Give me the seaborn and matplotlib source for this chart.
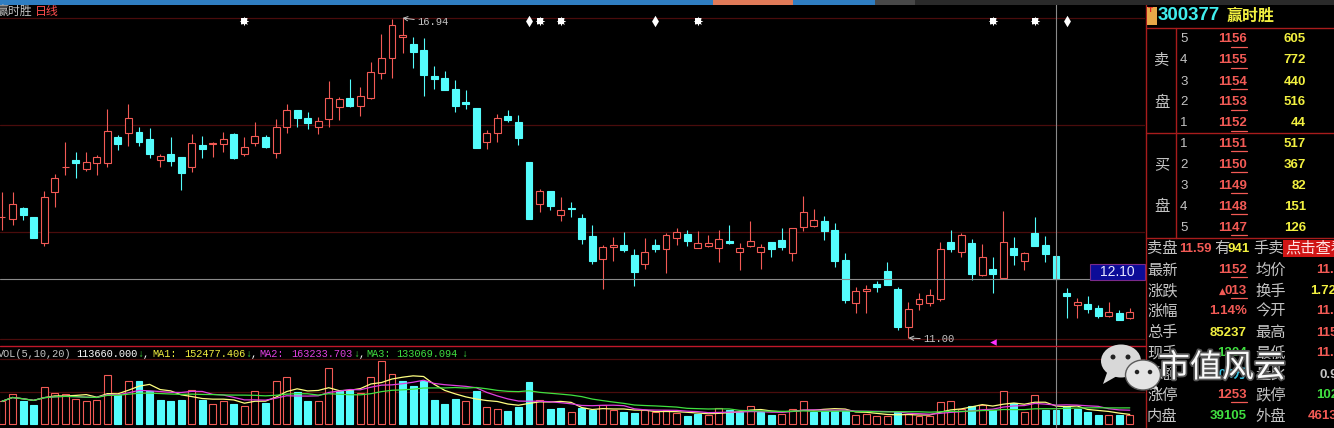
import numpy as np
import pandas as pd
import matplotlib
matplotlib.use("Agg")
import matplotlib.pyplot as plt
import matplotlib.transforms as mtransforms
import matplotlib.patheffects as pe
from matplotlib.lines import Line2D
from matplotlib.patches import Rectangle, Ellipse, Polygon
import seaborn as sns

# ---------------------------------------------------------------- data
opens = [13.25, 13.21, 13.41, 13.25, 12.76, 13.71, 14.17, 14.30, 14.14, 14.25,
         14.25, 14.73, 14.81, 14.82, 14.69, 14.30, 14.42, 14.36, 14.17, 14.58,
         14.61, 14.60, 14.79, 14.42, 14.62, 14.73, 14.43, 14.92, 15.23, 15.08,
         14.92, 15.06, 15.29, 15.45, 15.31, 15.45, 15.92, 16.20, 16.59, 16.46,
         16.35, 15.86, 15.83, 15.62, 15.38, 15.27, 14.64, 14.81, 15.12, 15.01,
         14.27, 13.49, 13.73, 13.28, 13.41, 13.23, 12.89, 12.47, 12.69, 12.73,
         12.54, 12.37, 12.73, 12.65, 12.86, 12.93, 12.67, 12.71, 12.67, 12.80,
         12.60, 12.71, 12.60, 12.78, 12.82, 12.58, 13.06, 13.08, 13.17, 13.00,
         12.45, 11.65, 11.87, 12.00, 12.24, 11.91, 11.20, 11.63, 11.65, 11.72,
         12.78, 12.60, 12.76, 12.17, 12.28, 12.11, 12.67, 12.43, 12.95, 12.73,
         12.52, 11.84, 11.61, 11.63, 11.56, 11.41, 11.46, 11.37]
highs = [13.71, 13.71, 13.43, 13.25, 13.73, 14.04, 14.64, 14.45, 14.45, 14.40,
         15.25, 14.77, 15.34, 14.92, 14.90, 14.42, 14.73, 14.36, 14.79, 14.75,
         14.64, 14.82, 14.81, 14.73, 15.01, 14.77, 15.06, 15.34, 15.23, 15.20,
         15.10, 15.77, 15.47, 15.81, 15.66, 16.12, 16.64, 16.92, 16.94, 16.59,
         16.57, 16.05, 15.96, 15.79, 15.60, 15.27, 14.86, 15.16, 15.23, 15.14,
         14.27, 13.77, 13.73, 13.62, 13.52, 13.30, 13.10, 12.73, 12.87, 12.97,
         12.65, 12.86, 12.84, 12.95, 13.04, 13.00, 12.99, 12.91, 13.00, 13.10,
         12.76, 13.17, 12.74, 12.78, 13.04, 13.04, 13.64, 13.39, 13.26, 13.13,
         12.58, 11.95, 11.98, 12.06, 12.41, 11.95, 11.67, 11.84, 11.91, 12.78,
         13.00, 12.95, 12.84, 12.74, 12.50, 13.36, 12.87, 12.60, 13.25, 12.89,
         12.52, 11.93, 11.74, 11.78, 11.61, 11.67, 11.52, 11.56]
lows = [13.00, 13.10, 13.19, 12.86, 12.71, 13.43, 14.03, 13.97, 14.10, 14.03,
        14.17, 14.49, 14.56, 14.56, 14.34, 14.17, 14.19, 13.75, 14.08, 14.34,
        14.36, 14.45, 14.32, 14.38, 14.56, 14.53, 14.34, 14.81, 14.92, 14.88,
        14.79, 14.92, 15.05, 15.29, 15.12, 15.44, 15.81, 15.83, 16.29, 16.01,
        15.49, 15.62, 15.60, 15.20, 15.25, 14.53, 14.51, 14.64, 15.01, 14.58,
        13.21, 13.34, 13.38, 13.17, 13.25, 12.74, 12.37, 11.91, 12.43, 12.60,
        11.97, 12.28, 12.60, 12.21, 12.73, 12.71, 12.67, 12.69, 12.41, 12.74,
        12.26, 12.69, 12.28, 12.50, 12.63, 12.43, 12.99, 13.06, 12.82, 12.32,
        11.65, 11.46, 11.46, 11.85, 11.98, 11.15, 11.00, 11.52, 11.59, 11.69,
        12.60, 12.50, 12.08, 12.15, 11.84, 12.11, 12.35, 12.26, 12.71, 12.41,
        12.10, 11.37, 11.37, 11.46, 11.37, 11.39, 11.33, 11.35]
closes = [13.25, 13.49, 13.28, 12.86, 13.62, 13.97, 14.18, 14.25, 14.27, 14.36,
          14.84, 14.60, 15.08, 14.64, 14.42, 14.38, 14.29, 14.06, 14.62, 14.51,
          14.62, 14.69, 14.34, 14.55, 14.75, 14.55, 14.92, 15.23, 15.08, 14.99,
          15.03, 15.45, 15.44, 15.31, 15.49, 15.94, 16.20, 16.81, 16.62, 16.31,
          15.88, 15.81, 15.60, 15.31, 15.34, 14.53, 14.81, 15.08, 15.05, 14.71,
          13.21, 13.73, 13.45, 13.38, 13.39, 12.84, 12.43, 12.69, 12.73, 12.63,
          12.23, 12.60, 12.65, 12.91, 12.97, 12.80, 12.76, 12.76, 12.84, 12.76,
          12.67, 12.80, 12.69, 12.65, 12.69, 13.04, 13.34, 13.19, 12.99, 12.43,
          11.71, 11.87, 11.91, 11.95, 11.98, 11.20, 11.54, 11.72, 11.80, 12.65,
          12.65, 12.91, 12.19, 12.50, 12.19, 12.78, 12.54, 12.58, 12.71, 12.56,
          12.10, 11.78, 11.67, 11.54, 11.41, 11.48, 11.33, 11.48]
volumes = [188000, 252000, 188000, 155000, 310000, 260000, 252000, 210000, 188000, 202000,
           410000, 243000, 360000, 354000, 277000, 196000, 188000, 196000, 282000, 196000,
           169000, 188000, 163000, 147000, 277000, 174000, 354000, 393000, 263000, 188000,
           194000, 468000, 271000, 279000, 257000, 387000, 526000, 418000, 354000, 313000,
           360000, 202000, 166000, 210000, 188000, 271000, 138000, 127000, 105000, 138000,
           346000, 202000, 122000, 130000, 97000, 133000, 119000, 160000, 114000, 97000,
           89000, 114000, 100000, 119000, 89000, 64000, 83000, 72000, 133000, 119000,
           100000, 152000, 97000, 72000, 83000, 127000, 193000, 97000, 110000, 110000,
           110000, 72000, 85000, 64000, 64000, 97000, 83000, 64000, 64000, 180000,
           193000, 125000, 147000, 160000, 119000, 271000, 174000, 97000, 243000, 119000,
           113660, 147000, 125000, 100000, 77000, 72000, 77000, 72000]

stock_code = "300377"
stock_name = "赢时胜"
period_label = "日线"
high_label = "16.94"
low_label = "11.00"
high_index = 38
low_index = 86
cursor_index = 100
cursor_price = 12.10
flag_index = 94
star_events = [23, 51, 53, 66, 94, 98]
bar_events = [50, 62, 101]
price_grid = [16.94, 14.95, 12.97, 10.98]
vol_grid = [540000, 266000]
ma_windows = [5, 10, 20]
vol_legend_name = "VOL(5,10,20)"
vol_legend_values = ["113660.000", "152477.406", "163233.703", "133069.094"]

ask_levels = ["5", "4", "3", "2", "1"]
ask_prices = ["1156", "1155", "1154", "1153", "1152"]
ask_vols = ["605", "772", "440", "516", "44"]
bid_levels = ["1", "2", "3", "4", "5"]
bid_prices = ["1151", "1150", "1149", "1148", "1147"]
bid_vols = ["517", "367", "82", "151", "126"]
ask_block = ["卖盘", "11.59", "有", "941", "手卖", "点击查看"]
quote_left_labels = ["最新", "涨跌", "涨幅", "总手", "现手", "总额", "涨停", "内盘"]
quote_left_values = ["1152", "013", "1.14%", "85237", "1304", "9904万", "1253", "39105"]
quote_right_labels = ["均价", "换手", "今开", "最高", "最低", "量比", "跌停", "外盘"]
quote_right_values = ["11.45", "1.72%", "11.40", "1159", "11.37", "0.96", "1025", "46132"]
watermark = "市值风云"

# ---------------------------------------------------------------- style
RED = "#f25a55"
CYAN = "#54fcfc"
GRAY = "#c4c4c4"
YELLOW = "#f2f040"
GREEN = "#40e040"
MAGENTA = "#e040e0"
GRID = "#4a0c0c"
PANEL = "#a81c1c"
CROSS = "#8a8a8a"

NUM = ["Liberation Sans", "Noto Sans CJK SC", "DejaVu Sans"]
CJK = ["Noto Sans CJK SC", "DejaVu Sans"]
MONO = ["Liberation Mono", "DejaVu Sans Mono"]

sns.set_theme(style="dark", rc={"figure.facecolor": "black", "axes.facecolor": "black",
                                "savefig.facecolor": "black"})
plt.rcParams["font.family"] = ["Noto Sans CJK SC", "DejaVu Sans"]

W, H, DPI = 1334, 428, 100
fig = plt.figure(figsize=(W / DPI, H / DPI), dpi=DPI)
fig.patch.set_facecolor("black")


def fx(x):
    return x / W


def fy(y):
    return 1 - y / H


def hline(y, x0, x1, color, lw=1.0, z=6):
    fig.add_artist(Line2D([fx(x0), fx(x1)], [fy(y), fy(y)], transform=fig.transFigure,
                          color=color, lw=lw, zorder=z))


def vline(x, y0, y1, color, lw=1.0, z=6):
    fig.add_artist(Line2D([fx(x), fx(x)], [fy(y0), fy(y1)], transform=fig.transFigure,
                          color=color, lw=lw, zorder=z))


def rect(x0, y0, x1, y1, fc, ec="none", lw=0.0, z=6):
    fig.add_artist(Rectangle((fx(x0), fy(y1)), fx(x1) - fx(x0), fy(y0) - fy(y1),
                             transform=fig.transFigure, facecolor=fc, edgecolor=ec,
                             lw=lw, zorder=z))


def txt(x, y, s, color, size, ha="left", va="center", family=None, weight="normal", z=8, **kw):
    fig.text(fx(x), fy(y), s, color=color, fontsize=size, ha=ha, va=va,
             family=family or CJK, weight=weight, zorder=z, **kw)


# ---------------------------------------------------------------- geometry
STEP = 10.54
X0 = 2.0
CHART_R = 1145
xlim = (-X0 / STEP, (CHART_R - X0) / STEP)
PX_PER_PRICE = 53.87
P_TOP = 16.94 + 18 / PX_PER_PRICE
VOL_PER_PX = 8300
VOL_BASE = 424

ax = fig.add_axes([0, fy(346), CHART_R / W, 346 / H])
vax = fig.add_axes([0, 0, CHART_R / W, (H - 346) / H])

# ---------------------------------------------------------------- candles
o = np.array(opens)
c = np.array(closes)
h = np.array(highs)
l = np.array(lows)
n = len(c)
idx = np.arange(n)
up = c >= o
BW = 0.66

for g in price_grid:
    ax.axhline(g, color=GRID, lw=0.9, zorder=1)

ax.vlines(idx[up], l[up], h[up], color=RED, lw=0.8, zorder=2)
ax.vlines(idx[~up], l[~up], h[~up], color=CYAN, lw=0.8, zorder=2)
body_lo = np.minimum(o, c)
body_h = np.maximum(np.abs(c - o), 0.004)
ax.bar(idx[up], body_h[up], bottom=body_lo[up], width=BW, facecolor="black",
       edgecolor=RED, linewidth=0.8, zorder=3)
ax.bar(idx[~up], body_h[~up], bottom=body_lo[~up], width=BW, facecolor=CYAN,
       edgecolor=CYAN, linewidth=0.8, zorder=3)

# crosshair
ax.axvline(cursor_index, color=CROSS, lw=0.8, zorder=4)
ax.axhline(cursor_price, xmin=0, xmax=1090 / CHART_R, color=CROSS, lw=0.8, zorder=4)

# event markers
btrans = mtransforms.blended_transform_factory(ax.transData, ax.transAxes)
ymk = 1 - 20.7 / 346
ax.scatter(star_events, [ymk] * len(star_events), transform=btrans, marker=(8, 1, 0),
           s=48, color="white", linewidths=0, zorder=6)
ax.scatter(star_events, [ymk] * len(star_events), transform=btrans, marker="s",
           s=16, color="white", linewidths=0, zorder=6)
ax.scatter(bar_events, [ymk] * len(bar_events), transform=btrans, marker="d",
           s=34, color="white", linewidths=0, zorder=6)

# high / low annotations
ax.annotate(high_label, xy=(high_index, highs[high_index]), xytext=(15, -4),
            textcoords="offset pixels", color=GRAY, fontsize=7.6, family=MONO,
            ha="left", va="center",
            arrowprops=dict(arrowstyle="->", color=GRAY, lw=0.7, shrinkA=0, shrinkB=0))
ax.annotate(low_label, xy=(low_index, lows[low_index]), xytext=(15, -1.5),
            textcoords="offset pixels", color=GRAY, fontsize=7.6, family=MONO,
            ha="left", va="center",
            arrowprops=dict(arrowstyle="->", color=GRAY, lw=0.7, shrinkA=0, shrinkB=0))
ax.scatter([flag_index], [P_TOP - 341.7 / PX_PER_PRICE], marker="<", s=22,
           color="#ff30ff", linewidths=0, zorder=6)

ax.set_xlim(*xlim)
ax.set_ylim(P_TOP - 346 / PX_PER_PRICE, P_TOP)
ax.axis("off")

# ---------------------------------------------------------------- volume
v = np.array(volumes, dtype=float)
prev = np.r_[c[0], c[:-1]]
vup = c >= prev
for g in vol_grid:
    vax.axhline(g, color=GRID, lw=0.9, zorder=1)
vax.bar(idx[vup], v[vup], width=BW, facecolor="black", edgecolor=RED, linewidth=0.8, zorder=2)
vax.bar(idx[~vup], v[~vup], width=BW, facecolor=CYAN, edgecolor=CYAN, linewidth=0.8, zorder=2)

vs = pd.Series(v)
ma_df = pd.DataFrame({"i": idx})
ma_colors = ["#ffff80", MAGENTA, GREEN]
for wdw, col in zip(ma_windows, ma_colors):
    ma_df[f"ma{wdw}"] = vs.rolling(wdw, min_periods=1).mean()
    sns.lineplot(data=ma_df, x="i", y=f"ma{wdw}", ax=vax, color=col, lw=0.9,
                 legend=False, zorder=3)
vax.axvline(cursor_index, color=CROSS, lw=0.8, zorder=4)
vax.set_xlim(*xlim)
vax.set_ylim(-(H - VOL_BASE) * VOL_PER_PX, (VOL_BASE - 346) * VOL_PER_PX)
vax.axis("off")

# volume legend
LY = 354
txt(-2, LY, vol_legend_name, GRAY, 7.4, family=MONO)
pieces = [(76, vol_legend_values[0], "white"), (137, "↓", GREEN), (143, ",", "white"),
          (152, "MA1:", YELLOW), (184, vol_legend_values[1], YELLOW), (245, "↓", GREEN),
          (251, ",", "white"), (259, "MA2:", MAGENTA), (291, vol_legend_values[2], MAGENTA),
          (353, "↓", GREEN), (359, ",", "white"), (366, "MA3:", GREEN),
          (396, vol_legend_values[3], GREEN), (461, "↓", GREEN)]
for x, s, col in pieces:
    txt(x, LY, s, col, 7.4, family=MONO)

# ---------------------------------------------------------------- frame / header
rect(0, 0, 875, 4.5, "#2f7ec2", z=7)
rect(713, 0, 793, 4.5, "#e07a58", z=7)
rect(875, 0, 915, 4.5, "#484848", z=7)
rect(915, 0, W, 4.5, "#2a2a2a", z=7)
hline(346, 0, 1146, "#c0182a", lw=1.0)

txt(-3, 11, stock_name, GRAY, 8.6)
txt(35, 11, period_label, "#ff4d4d", 8.6)

# price label box at cursor
rect(1090, 264, 1145, 280, "#0c0c98", ec="#7a2a8a", lw=0.8, z=6)
txt(1117.5, 272.5, f"{cursor_price:.2f}", "#e8e8ff", 10, ha="center", family=NUM)

# ---------------------------------------------------------------- right panel
vline(1146, 4, H, PANEL)
hline(27.7, 1146, W, PANEL)
vline(1176, 28, 238.5, PANEL)
hline(133, 1146, W, PANEL)
hline(238.5, 1146, W, PANEL)

rect(1147, 7, 1157, 25, "#e8a848", z=7)
txt(1148, 11, "T", "#e02020", 6, family=NUM, weight="bold")
txt(1158, 16, stock_code, "#40eeee", 13.5, family=NUM, weight="bold")
txt(1227, 16, stock_name, YELLOW, 11.5, weight="bold")

sell_ys = [39.3, 60.3, 81.7, 102.3, 123.3]
buy_ys = [144.0, 164.7, 185.7, 206.7, 227.7]
for ys, lv, pr, vo in [(sell_ys, ask_levels, ask_prices, ask_vols),
                       (buy_ys, bid_levels, bid_prices, bid_vols)]:
    for y, a, b, d in zip(ys, lv, pr, vo):
        txt(1180, y, a, GRAY, 9.5, family=NUM)
        txt(1247, y, b, RED, 9.5, ha="right", family=NUM, weight="bold")
        hline(y + 7.4, 1231, 1247, RED, lw=0.9)
        txt(1306, y, d, YELLOW, 9.5, ha="right", family=NUM, weight="bold")
for ch, y in [("卖", 60), ("盘", 103), ("买", 165), ("盘", 207)]:
    txt(1162, y, ch, GRAY, 11, ha="center")

RY = 248.5
rect(1283, 240, W, 257, "#d01515", z=6)
txt(1147, RY, ask_block[0], GRAY, 11)
txt(1179, RY, ask_block[1], RED, 9.5, family=NUM, weight="bold")
txt(1214, RY, ask_block[2], GRAY, 11)
txt(1228, RY, ask_block[3], YELLOW, 9.5, family=NUM, weight="bold")
txt(1253, RY, ask_block[4], GRAY, 11)
txt(1285, RY, ask_block[5], "#ffe4e4", 11)

qys = [270, 291, 311.5, 332.5, 353.5, 374.5, 395, 416]
left_cols = [RED, RED, RED, YELLOW, GREEN, "#38c0e0", RED, GREEN]
right_cols = [RED, YELLOW, RED, RED, RED, GRAY, GREEN, RED]
right_x = [1316, 1310, 1316, 1316, 1316, 1320, 1316, 1308]
underlined = {"1152", "013", "1253"}
for i, y in enumerate(qys):
    txt(1147, y, quote_left_labels[i], GRAY, 11)
    txt(1247, y, quote_left_values[i], left_cols[i], 9.5, ha="right", family=NUM, weight="bold")
    if quote_left_values[i] in underlined:
        hline(y + 7.4, 1231, 1247, RED, lw=0.9)
    txt(1255, y, quote_right_labels[i], GRAY, 11)
    txt(right_x[i], y, quote_right_values[i], right_cols[i], 9.5, family=NUM, weight="bold")
txt(1219, qys[1], "▲", RED, 6.5, family=["DejaVu Sans"])

# ---------------------------------------------------------------- watermark
def ell(cx, cy, w, hgt, fc, ec="none", lw=0.0, z=9):
    fig.add_artist(Ellipse((fx(cx), fy(cy)), w / W, hgt / H, transform=fig.transFigure,
                           facecolor=fc, edgecolor=ec, lw=lw, zorder=z))


def poly(pts, fc, z=9):
    fig.add_artist(Polygon([(fx(a), fy(b)) for a, b in pts], closed=True,
                           transform=fig.transFigure, facecolor=fc, edgecolor="none", zorder=z))


poly([(1108, 370), (1103, 384), (1117, 376)], "#d8d8d8", z=9)
ell(1121, 361, 40, 33, "#d8d8d8", z=9)
ell(1113, 357, 5, 5, "#222222", z=9.5)
ell(1128, 357, 5, 5, "#222222", z=9.5)
poly([(1150, 384), (1159, 392), (1154, 380)], "#e4e4e4", z=10)
ell(1143, 375, 35, 30, "#e4e4e4", ec="#5a5a5a", lw=1.0, z=10)
ell(1137, 372, 4.5, 4.5, "#222222", z=10.5)
ell(1150, 372, 4.5, 4.5, "#222222", z=10.5)
txt(1222, 368, watermark, "#fafafa", 23, ha="center", z=11,
    path_effects=[pe.withStroke(linewidth=2.5, foreground="#555555")])

fig.savefig("out.png", dpi=DPI, facecolor="black")
